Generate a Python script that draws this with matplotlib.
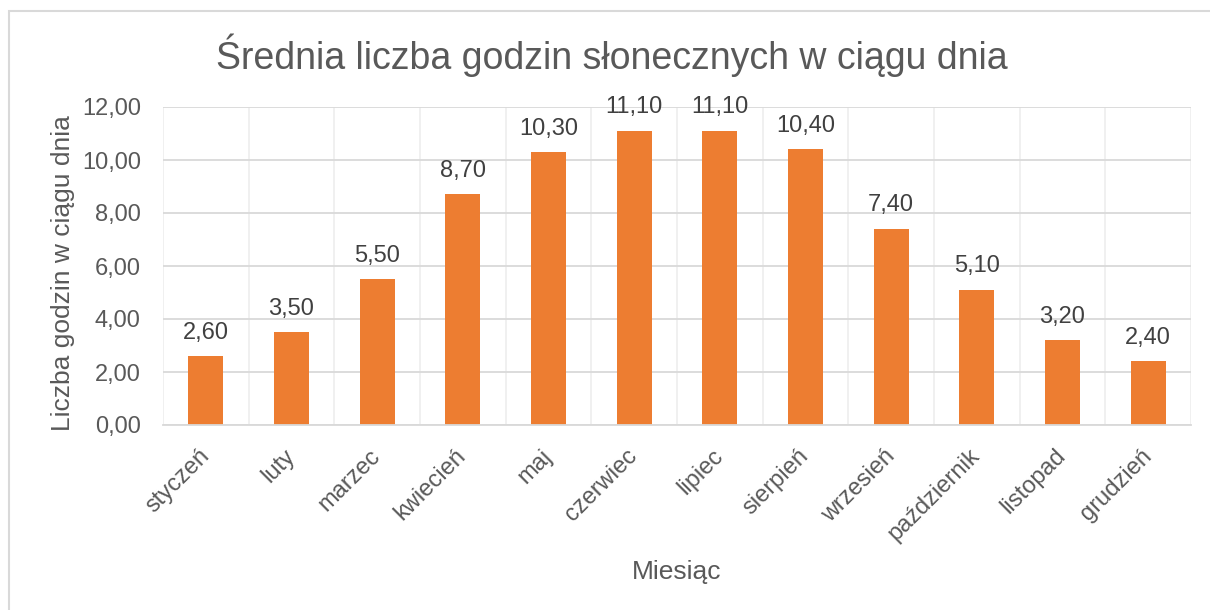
import matplotlib
matplotlib.use("Agg")
import matplotlib.pyplot as plt
import numpy as np
from matplotlib.patches import Rectangle

months = ["styczeń", "luty", "marzec", "kwiecień", "maj", "czerwiec",
          "lipiec", "sierpień", "wrzesień", "październik", "listopad", "grudzień"]
hours = [2.6, 3.5, 5.5, 8.7, 10.3, 11.1, 11.1, 10.4, 7.4, 5.1, 3.2, 2.4]
yticks = [0, 2, 4, 6, 8, 10, 12]

title = "Średnia liczba godzin słonecznych w ciągu dnia"
ylabel = "Liczba godzin w ciągu dnia"
xlabel = "Miesiąc"

plt.rcParams['font.family'] = ['Liberation Sans', 'DejaVu Sans']
TXT = '#595959'

fig = plt.figure(figsize=(12.1, 6.1), dpi=100)
# outer chart border
fig.patches.append(Rectangle((9/1210, -0.05), 1.1, 1 - 11/610 + 0.05,
                             transform=fig.transFigure, fill=False,
                             edgecolor='#d9d9d9', lw=1.5))

ax = fig.add_axes([163/1210, 1 - 425/610, (1191-163)/1210, (425-107)/610])
x = np.arange(len(months))
bars = ax.bar(x, hours, width=0.41, color='#ED7D31', zorder=3)

ax.set_xlim(-0.5, len(months) - 0.5)
ax.set_ylim(0, 12)
ax.set_yticks(yticks)
ax.set_yticklabels([f"{v:.2f}".replace('.', ',') for v in yticks])
ax.set_xticks(x)
ax.set_xticklabels(months, rotation=45, ha='right', va='center', rotation_mode='anchor')
ax.set_xticks(np.arange(-0.5, len(months), 0.5), minor=True)
ax.tick_params(axis='both', which='both', length=0, colors=TXT, labelsize=17)
ax.tick_params(axis='y', pad=16)
ax.tick_params(axis='x', pad=20)

ax.grid(axis='x', which='minor', color='#efefef', lw=1.3, zorder=0)
ax.grid(axis='y', which='major', color='#d9d9d9', lw=1.3, zorder=1)
for s in ['top', 'right', 'left']:
    ax.spines[s].set_visible(False)
ax.spines['bottom'].set_color('#d9d9d9')
ax.spines['bottom'].set_linewidth(1.3)
ax.spines['bottom'].set_zorder(4)

for xi, v in zip(x, hours):
    ax.annotate(f"{v:.2f}".replace('.', ','), (xi, v), xytext=(0, 9),
                textcoords='offset points', ha='center', va='bottom',
                fontsize=17, color='#404040')

fig.text(612/1210, 1 - 55/610, title, ha='center', va='center', fontsize=27, color=TXT)
fig.text(63/1210, 1 - 273/610, ylabel, ha='center', va='center', rotation=90,
         fontsize=19, color=TXT)
fig.text(677/1210, 1 - 572/610, xlabel, ha='center', va='center', fontsize=19, color=TXT)

fig.savefig("out.png", dpi=100)
